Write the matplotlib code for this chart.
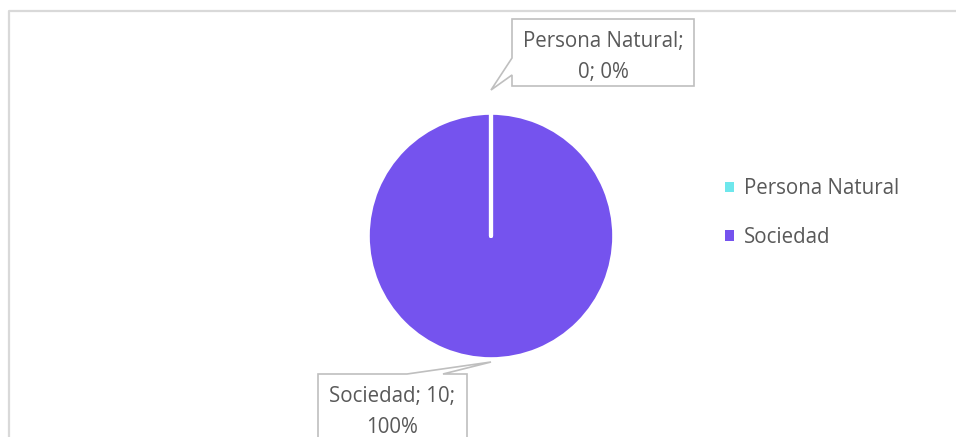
import numpy as np
import matplotlib
matplotlib.use("Agg")
import matplotlib.pyplot as plt
from matplotlib.patches import Patch, Polygon

categories = ["Persona Natural", "Sociedad"]
values = [0, 10]
colors = ["#6EE7EC", "#7553EE"]

plt.rcParams['font.family'] = ['Open Sans', 'DejaVu Sans']
TXT = "#595959"
FS = 14.8
W, H = 956, 437

fig = plt.figure(figsize=(W / 100, H / 100), dpi=100)
ax = fig.add_axes([0, 0, 1, 1])

# chart area border (cropped on the right and bottom)
ax.plot([9.5, 9.5, W + 5], [H + 5, 10.5, 10.5], color="#D9D9D9", lw=1.6,
        solid_capstyle="butt")

cx, cy, r = 491, 236, 123
# y axis is inverted, so counterclock=True looks clockwise on screen
wedges, _ = ax.pie(values, colors=colors, startangle=-90, counterclock=True,
                   center=(cx, cy), radius=r, frame=True,
                   wedgeprops=dict(edgecolor="white", linewidth=2.6))
ax.set_xlim(0, W)
ax.set_ylim(H, 0)
ax.set_aspect("equal")
ax.axis("off")

# white separator where the slices meet
for w in wedges:
    a = np.deg2rad(w.theta1)
    ax.plot([cx, cx + r * np.cos(a)], [cy, cy + r * np.sin(a)], color="white",
            lw=3, solid_capstyle="round", zorder=2)

total = sum(values)
labels = []
for c, v in zip(categories, values):
    pct = v / total * 100
    labels.append(f"{c}; {v}; {pct:.0f}%")
labels[0] = labels[0].replace("; 0;", ";\n0;")
labels[1] = labels[1].replace("10; ", "10;\n")

# callouts: rectangle + pointer to the wedge
def tip(w, off):
    ang = np.deg2rad((w.theta1 + w.theta2) / 2)
    return cx + (r + off) * np.cos(ang), cy + (r + off) * np.sin(ang)

t0 = tip(wedges[0], 23)
box0 = [(512, 19), (694, 19), (694, 86), (512, 86), (512, 75), t0, (512, 58)]
t1 = tip(wedges[1], 3)
box1 = [(318, 374), (407, 374), t1, (443, 374), (467, 374), (467, 460), (318, 460)]
for pts in (box0, box1):
    ax.add_patch(Polygon(pts, closed=True, facecolor="white", edgecolor="#BFBFBF",
                         lw=1.2, zorder=3))
ax.text(603, 57, labels[0], ha="center", va="center", fontsize=FS, color=TXT,
        linespacing=1.62, zorder=4)
ax.text(392, 412, labels[1], ha="center", va="center", fontsize=FS, color=TXT,
        linespacing=1.62, zorder=4)

handles = [Patch(facecolor=c, edgecolor="none") for c in colors]
ax.legend(handles, categories, loc="center left",
          bbox_to_anchor=(725 / W, 1 - 213 / H), frameon=False, fontsize=FS,
          labelcolor=TXT, handlelength=0.42, handleheight=0.42, handletextpad=0.5,
          labelspacing=1.32, borderpad=0, borderaxespad=0)

fig.savefig("out.png", dpi=100)
